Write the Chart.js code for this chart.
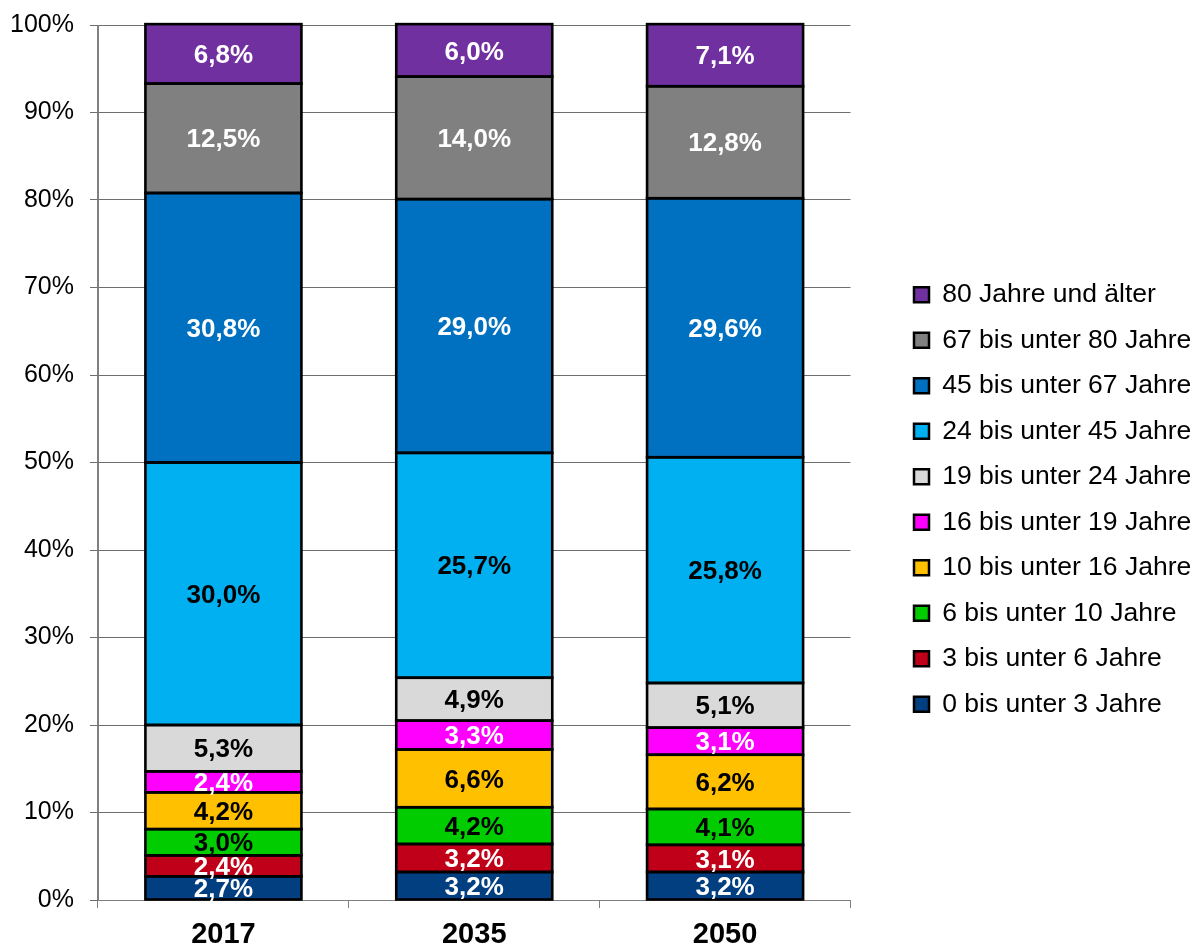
<!DOCTYPE html>
<html>
<head>
<meta charset="utf-8">
<script src="https://cdn.jsdelivr.net/npm/chart.js@4"></script>
<style>
  html, body { margin: 0; background: #fff; overflow: hidden; }
  #wrap { width: 1195px; height: 948px; }
  canvas { display: block; }
</style>
</head>
<body>
<div id="wrap"><canvas id="age-chart" width="1195" height="948"></canvas></div>
<script>
const years = ['2017', '2035', '2050'];
const groups = [
    '0 bis unter 3 Jahre',
    '3 bis unter 6 Jahre',
    '6 bis unter 10 Jahre',
    '10 bis unter 16 Jahre',
    '16 bis unter 19 Jahre',
    '19 bis unter 24 Jahre',
    '24 bis unter 45 Jahre',
    '45 bis unter 67 Jahre',
    '67 bis unter 80 Jahre',
    '80 Jahre und älter'
];
const age0to3 = [2.7, 3.2, 3.2];
const age3to6 = [2.4, 3.2, 3.1];
const age6to10 = [3.0, 4.2, 4.1];
const age10to16 = [4.2, 6.6, 6.2];
const age16to19 = [2.4, 3.3, 3.1];
const age19to24 = [5.3, 4.9, 5.1];
const age24to45 = [30.0, 25.7, 25.8];
const age45to67 = [30.8, 29.0, 29.6];
const age67to80 = [12.5, 14.0, 12.8];
const age80plus = [6.8, 6.0, 7.1];
const yTicks = [0, 10, 20, 30, 40, 50, 60, 70, 80, 90, 100];

const seriesValues = [age0to3, age3to6, age6to10, age10to16, age16to19, age19to24, age24to45, age45to67, age67to80, age80plus];
const fillColors = ['#013F80', '#C00018', '#00CC00', '#FFC000', '#FF00FF', '#D9D9D9', '#00B0F0', '#0070C0', '#808080', '#7030A0'];
const textColors = ['#fff', '#fff', '#000', '#000', '#fff', '#000', '#000', '#fff', '#fff', '#fff'];

const fontFamily = '"Liberation Sans", Arial, sans-serif';

// black outline round every segment, then the percentage inside it
const segmentLabels = {
    id: 'segmentLabels',
    afterDatasetsDraw(chart) {
        const ctx = chart.ctx;
        ctx.save();
        ctx.strokeStyle = '#000';
        ctx.lineWidth = 2.6;
        chart.data.datasets.forEach((ds, i) => {
            chart.getDatasetMeta(i).data.forEach(bar => {
                const p = bar.getProps(['x', 'y', 'base', 'width'], true);
                ctx.strokeRect(p.x - p.width / 2, p.y, p.width, p.base - p.y);
            });
        });
        ctx.font = 'bold 26px ' + fontFamily;
        ctx.textAlign = 'center';
        ctx.textBaseline = 'middle';
        chart.data.datasets.forEach((ds, i) => {
            chart.getDatasetMeta(i).data.forEach((bar, j) => {
                const p = bar.getProps(['x', 'y', 'base'], true);
                ctx.fillStyle = textColors[i];
                ctx.fillText(ds.data[j].toFixed(1).replace('.', ',') + '%', p.x, (p.y + p.base) / 2 + 2);
            });
        });
        ctx.restore();
    }
};

// put the legend where the original has it (and let it use the full width)
const legendShift = {
    id: 'legendShift',
    afterLayout(chart) {
        const lg = chart.legend;
        const dx = 914 - (lg.left + lg.options.labels.padding);
        lg.left += dx;
        lg.right = chart.width;
        lg.top += 13;
        lg.bottom += 13;
    }
};

const ctx = document.getElementById('age-chart').getContext('2d');
const ageChart = new Chart(ctx, {
    type: 'bar',
    data: {
        labels: years,
        datasets: seriesValues.map((vals, i) => ({
            label: groups[i],
            data: vals,
            backgroundColor: fillColors[i],
            borderWidth: 0,
            barPercentage: 0.622,
            categoryPercentage: 1
        }))
    },
    options: {
        responsive: false,
        animation: false,
        layout: { padding: { top: 25, right: 61, left: 0, bottom: 0 } },
        plugins: {
            legend: {
                position: 'right',
                reverse: true,
                labels: {
                    font: { family: fontFamily, size: 26.5 },
                    color: '#000',
                    boxWidth: 15,
                    boxHeight: 15,
                    padding: 19,
                    generateLabels(chart) {
                        return chart.data.datasets.map((ds, i) => ({
                            text: ds.label,
                            fillStyle: ds.backgroundColor,
                            strokeStyle: '#000',
                            lineWidth: 2.5,
                            datasetIndex: i,
                            fontColor: '#000'
                        }));
                    }
                }
            },
            tooltip: { enabled: false }
        },
        scales: {
            x: {
                stacked: true,
                grid: {
                    offset: true,
                    drawOnChartArea: true,
                    color: c => (c.index === 0 || c.index === years.length) ? '#808080' : 'rgba(0,0,0,0)',
                    tickColor: '#808080',
                    tickLength: 8
                },
                border: { color: '#808080' },
                ticks: {
                    font: { family: fontFamily, size: 29, weight: 'bold' },
                    color: '#000',
                    padding: 10
                },
                afterFit(scale) { scale.height = 48; }
            },
            y: {
                stacked: true,
                min: 0,
                max: 100,
                afterBuildTicks(scale) { scale.ticks = yTicks.map(v => ({ value: v })); },
                grid: { color: '#6e6e6e', tickColor: '#6e6e6e', tickLength: 8 },
                border: { color: '#808080' },
                ticks: {
                    font: { family: fontFamily, size: 25 },
                    color: '#000',
                    padding: 16,
                    callback: v => v + '%'
                },
                afterFit(scale) {
                    scale.width = 98;
                    scale.paddingTop = 0;
                    scale.paddingBottom = 0;
                }
            }
        }
    },
    plugins: [segmentLabels, legendShift]
});
</script>
</body>
</html>
